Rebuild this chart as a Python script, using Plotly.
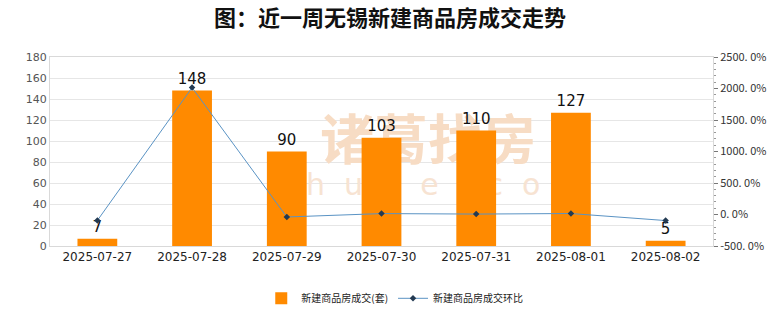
import plotly.graph_objects as go

dates = ["2025-07-27", "2025-07-28", "2025-07-29", "2025-07-30",
         "2025-07-31", "2025-08-01", "2025-08-02"]
units = [7, 148, 90, 103, 110, 127, 5]
ring_pct = [-95.0, 2014.3, -39.2, 14.4, 6.8, 15.5, -96.1]

left_ticks = list(range(0, 181, 20))
right_ticks = [-500, 0, 500, 1000, 1500, 2000, 2500]
right_text = ["-500. 0%", "0. 0%", "500. 0%", "1000. 0%", "1500. 0%", "2000. 0%", "2500. 0%"]

cjk = "Noto Sans CJK SC"
orange = "#FF8A00"

fig = go.Figure()

# faint brand watermark on a hidden base layer, underneath the data
fig.add_trace(go.Scatter(
    x=[0.57], y=[0.525], xaxis="x", yaxis="y", mode="text", text=["诸葛找房"],
    textfont=dict(family=cjk, size=54, color="#F7DCC4", weight="bold"),
    hoverinfo="skip", showlegend=False, cliponaxis=False,
))
fig.add_trace(go.Scatter(
    x=[0.573], y=[0.31], xaxis="x", yaxis="y", mode="text",
    text=["z  h  u  g  e  .  c  o  m"],
    textfont=dict(family="DejaVu Sans", size=30, color="#F7E3D2"),
    hoverinfo="skip", showlegend=False, cliponaxis=False,
))

fig.add_trace(go.Bar(
    x=dates, y=units, name="新建商品房成交(套)", xaxis="x2", yaxis="y2",
    marker=dict(color=orange, line=dict(width=0)),
    text=[str(v) for v in units], textposition="outside",
    textfont=dict(family="DejaVu Sans", size=15, color="#111111"),
    cliponaxis=False,
))

fig.add_trace(go.Scatter(
    x=dates, y=ring_pct, name="新建商品房成交环比", xaxis="x2", yaxis="y3",
    mode="lines+markers",
    line=dict(color="#5A93C4", width=1),
    marker=dict(symbol="diamond", size=5, color="#233A52"),
))

fig.update_layout(
    width=780, height=328,
    margin=dict(l=50, r=67, t=57, b=82),
    paper_bgcolor="white", plot_bgcolor="white",
    title=dict(text="图：近一周无锡新建商品房成交走势", x=0.5, xanchor="center",
               y=0.945, yanchor="middle",
               font=dict(family=cjk, size=22, color="#111111", weight="bold")),
    bargap=0.58,
    showlegend=True,
    legend=dict(orientation="h", x=0.52, xanchor="center", y=-0.2, yanchor="top",
                font=dict(family=cjk, size=10, color="#222222"),
                itemwidth=30, traceorder="normal"),
    xaxis=dict(range=[0, 1], visible=False, fixedrange=True),
    yaxis=dict(range=[0, 1], visible=False, fixedrange=True),
    xaxis2=dict(type="category", overlaying="x", side="bottom",
                categoryorder="array", categoryarray=dates,
                range=[-0.5, 6.5], showgrid=False,
                showline=True, linecolor="#D9D9D9", mirror=True,
                ticks="", tickfont=dict(family="DejaVu Sans", size=12, color="#222222")),
    yaxis2=dict(overlaying="y", side="left", range=[0, 180], tickvals=left_ticks,
                showgrid=True, gridcolor="#E6E6E6", gridwidth=1, zeroline=False,
                showline=True, linecolor="#D9D9D9", ticks="",
                tickfont=dict(family="DejaVu Sans", size=11, color="#555555")),
    yaxis3=dict(overlaying="y", side="right", range=[-500, 2500],
                tickvals=right_ticks, ticktext=right_text, showgrid=False,
                zeroline=False, showline=True, linecolor="#D9D9D9",
                ticks="outside", ticklen=4, tickcolor="#777777",
                minor=dict(dtick=100, ticks="outside", ticklen=2, tickcolor="#999999"),
                tickfont=dict(family="Noto Sans CJK JP", size=11, color="#333333")),
)

fig.write_html("out.html")
